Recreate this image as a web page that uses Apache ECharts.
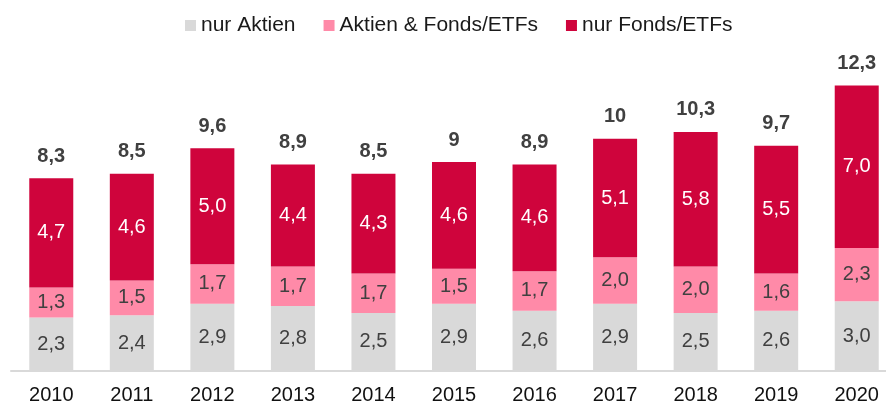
<!DOCTYPE html>
<html>
<head>
<meta charset="utf-8">
<script src="https://cdn.jsdelivr.net/npm/echarts@6/dist/echarts.min.js"></script>
<style>
  html, body { margin: 0; padding: 0; background: #fff; overflow: hidden; }
  #main { width: 897px; height: 405px; }
</style>
</head>
<body>
<div id="main"></div>
<script>
// Werte aus dem Diagramm (Mio.)
var years = ['2010', '2011', '2012', '2013', '2014', '2015', '2016', '2017', '2018', '2019', '2020'];
var nurAktien = [2.3, 2.4, 2.9, 2.8, 2.5, 2.9, 2.6, 2.9, 2.5, 2.6, 3.0];
var aktienFonds = [1.3, 1.5, 1.7, 1.7, 1.7, 1.5, 1.7, 2.0, 2.0, 1.6, 2.3];
var nurFonds = [4.7, 4.6, 5.0, 4.4, 4.3, 4.6, 4.6, 5.1, 5.8, 5.5, 7.0];
var totals = ['8,3', '8,5', '9,6', '8,9', '8,5', '9', '8,9', '10', '10,3', '9,7', '12,3'];

var font = 'Liberation Sans, Arial, sans-serif';

function comma(p) {
    return p.value.toFixed(1).replace('.', ',');
}

// Container ist etwas breiter als das Fenster: die Achse läuft rechts aus dem Bild
var myChart = echarts.init(document.getElementById('main'));
var option = {
    animation: false,
    textStyle: { fontFamily: font },
    legend: {
        top: 10,
        left: 180,
        itemWidth: 11,
        itemHeight: 11,
        itemGap: 28,
        icon: 'rect',
        textStyle: { fontSize: 21, color: '#1a1a1a', fontFamily: font },
        data: ['nur Aktien', 'Aktien & Fonds/ETFs', 'nur Fonds/ETFs']
    },
    grid: { left: 11, top: 46, right: 0, bottom: 33, containLabel: false },
    xAxis: {
        type: 'category',
        data: years,
        axisLine: { lineStyle: { color: '#d9d9d9', width: 2 } },
        axisTick: { show: false },
        axisLabel: { fontSize: 20, color: '#111', margin: 14, fontFamily: font }
    },
    yAxis: {
        type: 'value',
        min: 0,
        max: 14,
        show: false,
        splitLine: { show: false }
    },
    series: [
        {
            name: 'nur Aktien',
            type: 'bar',
            stack: 'a',
            barWidth: 44,
            itemStyle: { color: '#d9d9d9' },
            label: { show: true, position: 'inside', fontSize: 20, color: '#404040', formatter: comma },
            data: nurAktien
        },
        {
            name: 'Aktien & Fonds/ETFs',
            type: 'bar',
            stack: 'a',
            itemStyle: { color: '#ff8aa8' },
            label: { show: true, position: 'inside', fontSize: 20, color: '#404040', formatter: comma },
            data: aktienFonds
        },
        {
            name: 'nur Fonds/ETFs',
            type: 'bar',
            stack: 'a',
            itemStyle: { color: '#cf043c' },
            label: { show: true, position: 'inside', fontSize: 20, color: '#fff', formatter: comma },
            data: nurFonds
        },
        {
            // Summen über den Balken
            name: 'Summe',
            type: 'bar',
            stack: 'a',
            itemStyle: { color: 'transparent' },
            label: {
                show: true,
                position: 'top',
                distance: 12,
                fontSize: 20,
                fontWeight: 'bold',
                color: '#404040',
                formatter: function (p) { return totals[p.dataIndex]; }
            },
            data: years.map(function () { return 0; })
        }
    ]
};
myChart.setOption(option);
</script>
</body>
</html>
